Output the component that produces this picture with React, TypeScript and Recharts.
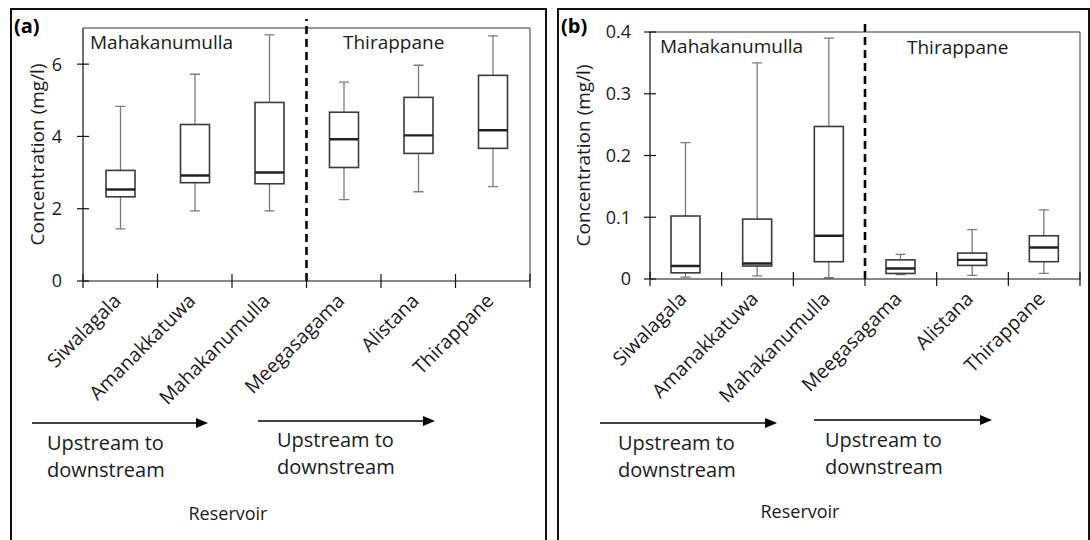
import React from "react";
import { ComposedChart, Bar, XAxis, YAxis, ReferenceLine } from "recharts";

// sampling sites, upstream to downstream within each reservoir
const sites = [
  "Siwalagala",
  "Amanakkatuwa",
  "Mahakanumulla",
  "Meegasagama",
  "Alistana",
  "Thirappane",
];

// (a) concentrations, mg/l
const aMin = [1.44, 1.94, 1.94, 2.25, 2.47, 2.61];
const aQ1 = [2.33, 2.72, 2.69, 3.14, 3.53, 3.67];
const aMed = [2.53, 2.92, 3.0, 3.92, 4.03, 4.17];
const aQ3 = [3.06, 4.33, 4.94, 4.67, 5.08, 5.69];
const aMax = [4.83, 5.72, 6.81, 5.5, 5.97, 6.78];

// (b) concentrations, mg/l
const bMin = [0.003, 0.005, 0.002, 0.007, 0.006, 0.009];
const bQ1 = [0.01, 0.021, 0.028, 0.009, 0.022, 0.028];
const bMed = [0.021, 0.025, 0.07, 0.017, 0.031, 0.051];
const bQ3 = [0.102, 0.097, 0.247, 0.031, 0.042, 0.07];
const bMax = [0.221, 0.35, 0.39, 0.04, 0.08, 0.112];

const aTicks = [0, 2, 4, 6];
const bTicks = [0, 0.1, 0.2, 0.3, 0.4];
// integer ticks mark category edges, half ticks carry the site names
const siteTicks = [0, 0.5, 1, 1.5, 2, 2.5, 3, 3.5, 4, 4.5, 5, 5.5, 6];

const INK = "#1a1a1a";
const FONT = "'Open Sans', sans-serif";
const CHART_H = 420;

type Row = { x: number; min: number; q1: number; med: number; q3: number; max: number };

function buildRows(min: number[], q1: number[], med: number[], q3: number[], max: number[]): Row[] {
  return sites.map((_, i) => ({ x: i + 0.5, min: min[i], q1: q1[i], med: med[i], q3: q3[i], max: max[i] }));
}

const rowsA = buildRows(aMin, aQ1, aMed, aQ3, aMax);
const rowsB = buildRows(bMin, bQ1, bMed, bQ3, bMax);

// the bar spans min..max; quartiles are placed inside that span
function BoxShape(props: any) {
  const { x, y, width, height, payload } = props;
  if (!payload) return null;
  const top = Math.min(y, y + height);
  const span = Math.abs(height);
  const { min, q1, med, q3, max } = payload as Row;
  const py = (v: number) => top + (span * (max - v)) / (max - min);
  const cx = x + width / 2;
  const cap = 5;
  const whisker = { stroke: "#7a7a7a", strokeWidth: 1.3 };
  return (
    <g>
      <line x1={cx} x2={cx} y1={py(max)} y2={py(q3)} {...whisker} />
      <line x1={cx} x2={cx} y1={py(q1)} y2={py(min)} {...whisker} />
      <line x1={cx - cap} x2={cx + cap} y1={py(max)} y2={py(max)} {...whisker} />
      <line x1={cx - cap} x2={cx + cap} y1={py(min)} y2={py(min)} {...whisker} />
      <rect x={x} y={py(q3)} width={width} height={py(q1) - py(q3)} fill="#fff" stroke="#3a3a3a" strokeWidth={1.6} />
      <line x1={x} x2={x + width} y1={py(med)} y2={py(med)} stroke="#222" strokeWidth={2.4} />
    </g>
  );
}

function SiteTick(props: any) {
  const { x, y, payload } = props;
  const v = payload.value as number;
  if (Number.isInteger(v)) {
    return <line x1={x} x2={x} y1={y - 7} y2={y + 7} stroke="#111" strokeWidth={1.2} />;
  }
  const ax = x + 2;
  const ay = y + 21;
  return (
    <text x={ax} y={ay} textAnchor="end" transform={`rotate(-45 ${ax} ${ay})`} fontSize={19.5} fontFamily={FONT} fill={INK}>
      {sites[Math.floor(v)]}
    </text>
  );
}

function ValueTick(props: any) {
  const { x, y, payload, gap } = props;
  const ax = x + gap;
  return (
    <g>
      <line x1={ax - 6} x2={ax + 6} y1={y} y2={y} stroke="#111" strokeWidth={1.2} />
      <text x={x} y={y} dy="0.36em" textAnchor="end" fontSize={18} fontFamily={FONT} fill={INK}>
        {payload.value}
      </text>
    </g>
  );
}

function AxisTitle(props: any) {
  const { viewBox, dx } = props;
  if (!viewBox) return null;
  const cx = viewBox.x + dx;
  const cy = viewBox.y + viewBox.height / 2;
  return (
    <text x={cx} y={cy} transform={`rotate(-90 ${cx} ${cy})`} textAnchor="middle" dominantBaseline="central" fontSize={19} fontFamily={FONT} fill={INK}>
      Concentration (mg/l)
    </text>
  );
}

type PanelProps = {
  rows: Row[];
  width: number;
  axisWidth: number;
  top: number;
  right: number;
  plotBottom: number;
  yMax: number;
  ticks: number[];
  gap: number;
  titleDx: number;
  dashTop: number;
};

function Panel({ rows, width, axisWidth, top, right, plotBottom, yMax, ticks, gap, titleDx, dashTop }: PanelProps) {
  return (
    <ComposedChart width={width} height={CHART_H} data={rows} margin={{ top, right, bottom: 0, left: 0 }}>
      <XAxis
        type="number"
        dataKey="x"
        domain={[0, 6]}
        ticks={siteTicks}
        interval={0}
        allowDataOverflow
        height={CHART_H - plotBottom}
        axisLine={{ stroke: "#111", strokeWidth: 1.2 }}
        tickLine={false}
        tickSize={0}
        tickMargin={0}
        tick={<SiteTick />}
      />
      <YAxis
        type="number"
        domain={[0, yMax]}
        ticks={ticks}
        interval={0}
        width={axisWidth}
        axisLine={{ stroke: "#111", strokeWidth: 1.2 }}
        tickLine={false}
        tickSize={0}
        tickMargin={gap}
        tick={<ValueTick gap={gap} />}
        label={<AxisTitle dx={titleDx} />}
      />
      <ReferenceLine y={yMax} stroke="#333" strokeWidth={1} />
      <ReferenceLine x={6} stroke="#333" strokeWidth={1} />
      <Bar dataKey={(d: Row) => [d.min, d.max]} barSize={29} shape={<BoxShape />} isAnimationActive={false} />
      <ReferenceLine
        segment={[{ x: 3, y: 0 }, { x: 3, y: dashTop }]}
        ifOverflow="visible"
        stroke="#000"
        strokeWidth={2.6}
        strokeDasharray="8 5"
      />
    </ComposedChart>
  );
}

function Arrow({ x1, x2, y }: { x1: number; x2: number; y: number }) {
  return (
    <g>
      <line x1={x1} x2={x2 - 10} y1={y} y2={y} stroke="#000" strokeWidth={1.6} />
      <polygon points={`${x2},${y} ${x2 - 12},${y - 5} ${x2 - 12},${y + 5}`} fill="#000" />
    </g>
  );
}

function Flow({ x, y }: { x: number; y: number }) {
  return (
    <text x={x} y={y} fontSize={20} fontFamily={FONT} fill={INK}>
      <tspan x={x}>Upstream to</tspan>
      <tspan x={x} dy={27}>downstream</tspan>
    </text>
  );
}

const frame: React.CSSProperties = {
  position: "absolute",
  top: 8,
  height: 560,
  border: "2.5px solid #111",
  boxSizing: "border-box",
};

export default function App() {
  return (
    <div style={{ position: "absolute", left: 0, top: 0, width: 1090, height: 540, overflow: "hidden", background: "#fff", fontFamily: FONT }}>
      <div style={{ ...frame, left: 10, width: 537 }} />
      <div style={{ ...frame, left: 557, width: 533 }} />

      <div style={{ position: "absolute", left: 10, top: 8 }}>
        <Panel rows={rowsA} width={537} axisWidth={73} top={20} right={17} plotBottom={273} yMax={7} ticks={aTicks} gap={21} titleDx={27} dashTop={7.25} />
      </div>
      <div style={{ position: "absolute", left: 557, top: 8 }}>
        <Panel rows={rowsB} width={532} axisWidth={93} top={24} right={9} plotBottom={271} yMax={0.4} ticks={bTicks} gap={19} titleDx={26} dashTop={0.415} />
      </div>

      <svg width={1090} height={540} style={{ position: "absolute", left: 0, top: 0, pointerEvents: "none" }}>
        <text x={14} y={33} fontSize={20} fontWeight="bold" fontFamily={FONT} fill="#000">(a)</text>
        <text x={561} y={33} fontSize={20} fontWeight="bold" fontFamily={FONT} fill="#000">(b)</text>

        <g fontSize={19} fontFamily={FONT} fill={INK}>
          <text x={90} y={49}>Mahakanumulla</text>
          <text x={343} y={49}>Thirappane</text>
          <text x={660} y={53}>Mahakanumulla</text>
          <text x={907} y={54}>Thirappane</text>
        </g>

        <Arrow x1={32} x2={208} y={423} />
        <Arrow x1={258} x2={435} y={421} />
        <Arrow x1={600} x2={777} y={423} />
        <Arrow x1={814} x2={992} y={420} />

        <Flow x={47} y={450} />
        <Flow x={277} y={447} />
        <Flow x={618} y={450} />
        <Flow x={825} y={447} />

        <text x={228} y={520} textAnchor="middle" fontSize={18} fontFamily={FONT} fill={INK}>Reservoir</text>
        <text x={800} y={518} textAnchor="middle" fontSize={18} fontFamily={FONT} fill={INK}>Reservoir</text>
      </svg>
    </div>
  );
}
